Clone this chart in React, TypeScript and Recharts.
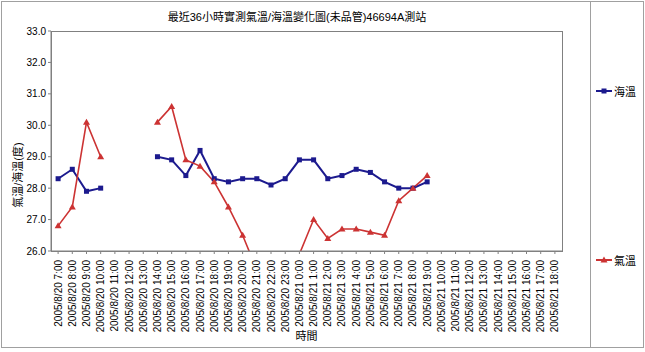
import { LineChart, Line, XAxis, YAxis } from "recharts";

const times = [
  "2005/8/20 7:00", "2005/8/20 8:00", "2005/8/20 9:00", "2005/8/20 10:00",
  "2005/8/20 11:00", "2005/8/20 12:00", "2005/8/20 13:00", "2005/8/20 14:00",
  "2005/8/20 15:00", "2005/8/20 16:00", "2005/8/20 17:00", "2005/8/20 18:00",
  "2005/8/20 19:00", "2005/8/20 20:00", "2005/8/20 21:00", "2005/8/20 22:00",
  "2005/8/20 23:00", "2005/8/21 0:00", "2005/8/21 1:00", "2005/8/21 2:00",
  "2005/8/21 3:00", "2005/8/21 4:00", "2005/8/21 5:00", "2005/8/21 6:00",
  "2005/8/21 7:00", "2005/8/21 8:00", "2005/8/21 9:00", "2005/8/21 10:00",
  "2005/8/21 11:00", "2005/8/21 12:00", "2005/8/21 13:00", "2005/8/21 14:00",
  "2005/8/21 15:00", "2005/8/21 16:00", "2005/8/21 17:00", "2005/8/21 18:00",
];

// 海溫
const seaTemp = [
  28.3, 28.6, 27.9, 28.0, null, null, null, 29.0, 28.9, 28.4, 29.2, 28.3,
  28.2, 28.3, 28.3, 28.1, 28.3, 28.9, 28.9, 28.3, 28.4, 28.6, 28.5, 28.2,
  28.0, 28.0, 28.2, null, null, null, null, null, null, null, null, null,
];

// 氣溫
const airTemp = [
  26.8, 27.4, 30.1, 29.0, null, null, null, 30.1, 30.6, 28.9, 28.7, 28.2,
  27.4, 26.5, 25.4, 25.2, 25.3, 25.9, 27.0, 26.4, 26.7, 26.7, 26.6, 26.5,
  27.6, 28.0, 28.4, null, null, null, null, null, null, null, null, null,
];

const yTicks = [26, 27, 28, 29, 30, 31, 32, 33];

const data = times.map((t, i) => ({ time: t, sea: seaTemp[i], air: airTemp[i] }));

const FONT = '"Liberation Sans", "Noto Sans CJK TC", Arial, sans-serif';
const BLUE = "#1c1a8e";
const RED = "#cc3333";

const SquareDot = (props: any) => {
  const { cx, cy, value, index } = props;
  if (value == null || cx == null || cy == null) return <g key={index} />;
  return <rect key={index} x={cx - 2.5} y={cy - 2.5} width={5} height={5} fill={BLUE} />;
};

const TriangleDot = (props: any) => {
  const { cx, cy, value, index } = props;
  if (value == null || cx == null || cy == null) return <g key={index} />;
  return (
    <polygon
      key={index}
      points={`${cx},${cy - 3.5} ${cx + 3.5},${cy + 2.5} ${cx - 3.5},${cy + 2.5}`}
      fill={RED}
    />
  );
};

const XTick = (props: any) => {
  const { x, y, payload } = props;
  const ty = y + 4;
  return (
    <text
      x={x}
      y={ty}
      dy="0.35em"
      transform={`rotate(-90 ${x} ${ty})`}
      textAnchor="end"
      fontSize={10}
      fontFamily={FONT}
      fill="#000"
    >
      {payload.value}
    </text>
  );
};

export default function App() {
  return (
    <div style={{ position: "absolute", left: 0, top: 0, width: 645, height: 352, background: "#fff", fontFamily: FONT }}>
      <div style={{ position: "absolute", left: 1, top: 1, width: 641, height: 345, border: "1px solid #a0a0a0" }} />
      <div style={{ position: "absolute", left: 590, top: 1, width: 0, height: 346, borderLeft: "1px solid #a0a0a0" }} />
      <div style={{ position: "absolute", left: 0, top: 8, width: 594, textAlign: "center", fontSize: 11 }}>
        最近36小時實測氣溫/海溫變化圖(未品管)46694A測站
      </div>
      <LineChart
        width={645}
        height={352}
        data={data}
        margin={{ top: 31, right: 83, left: 0, bottom: 0 }}
        style={{ position: "absolute", left: 0, top: 0 }}
      >
        <XAxis
          dataKey="time"
          scale="band"
          interval={0}
          height={101}
          tick={<XTick />}
          tickSize={3}
          axisLine={{ stroke: "#808080" }}
          tickLine={{ stroke: "#808080" }}
          label={{ value: "時間", position: "insideBottom", offset: 12, fontSize: 11, fill: "#000", fontFamily: FONT }}
        />
        <YAxis
          width={51}
          domain={[26, 33]}
          ticks={yTicks}
          allowDataOverflow
          tickFormatter={(v: number) => v.toFixed(1)}
          tick={{ fontSize: 10, fill: "#000", fontFamily: FONT }}
          tickSize={3}
          axisLine={{ stroke: "#808080" }}
          tickLine={{ stroke: "#808080" }}
          label={{
            content: () => (
              <text
                x={18}
                y={175}
                transform="rotate(-90 18 175)"
                textAnchor="middle"
                dominantBaseline="central"
                fontSize={11}
                fontFamily={FONT}
                fill="#000"
              >
                氣溫/海溫(度)
              </text>
            ),
          }}
        />
        <Line
          dataKey="sea"
          stroke={BLUE}
          strokeWidth={2}
          dot={SquareDot}
          activeDot={false}
          isAnimationActive={false}
        />
        <Line
          dataKey="air"
          stroke={RED}
          strokeWidth={1.6}
          dot={TriangleDot}
          activeDot={false}
          isAnimationActive={false}
        />
      </LineChart>
      <div style={{ position: "absolute", left: 51, top: 31, width: 510, height: 219, border: "1px solid #808080", pointerEvents: "none" }} />
      <div style={{ position: "absolute", left: 596, top: 83, display: "flex", alignItems: "center", fontSize: 11 }}>
        <svg width={16} height={10}>
          <line x1={0} y1={5} x2={16} y2={5} stroke={BLUE} strokeWidth={2} />
          <rect x={5.5} y={2.5} width={5} height={5} fill={BLUE} />
        </svg>
        <span style={{ marginLeft: 2 }}>海溫</span>
      </div>
      <div style={{ position: "absolute", left: 596, top: 252, display: "flex", alignItems: "center", fontSize: 11 }}>
        <svg width={16} height={10}>
          <line x1={0} y1={5} x2={16} y2={5} stroke={RED} strokeWidth={2} />
          <polygon points="8,1.5 11.5,7.5 4.5,7.5" fill={RED} />
        </svg>
        <span style={{ marginLeft: 2 }}>氣溫</span>
      </div>
    </div>
  );
}
